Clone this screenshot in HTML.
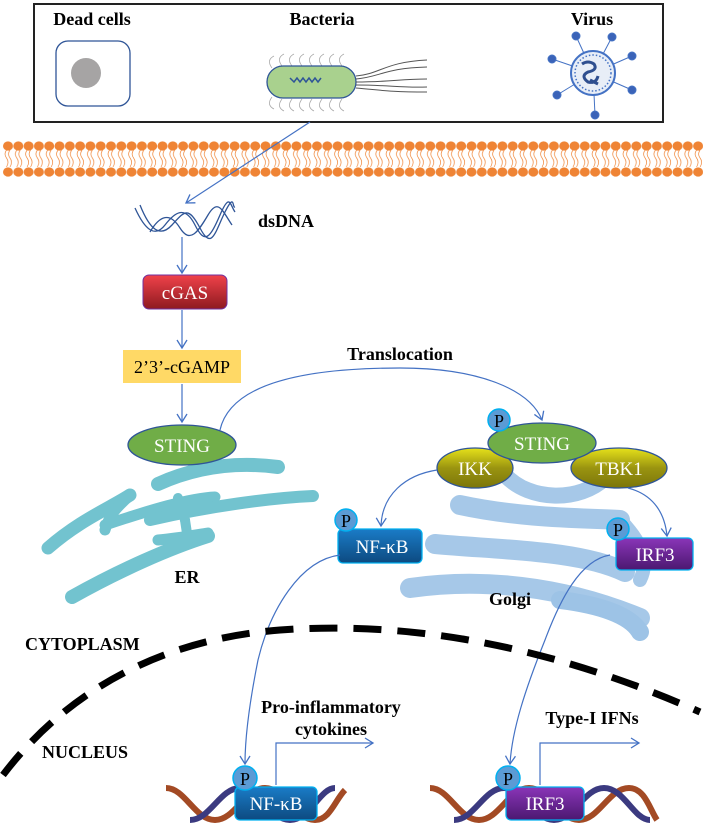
<!DOCTYPE html>
<html><head><meta charset="utf-8"><style>
html,body{margin:0;padding:0;background:#fff;}
svg{display:block;font-family:"Liberation Serif",serif;}
</style></head><body>
<svg width="703" height="826" viewBox="0 0 703 826" xmlns="http://www.w3.org/2000/svg">
<defs>
<marker id="ah" markerWidth="12" markerHeight="12" refX="9" refY="6" orient="auto" markerUnits="userSpaceOnUse">
<path d="M1,1 L9,6 L1,11" fill="none" stroke="#4472c4" stroke-width="1.3"/></marker>
<linearGradient id="red" x1="0" y1="0" x2="0" y2="1"><stop offset="0" stop-color="#f0424a"/><stop offset="1" stop-color="#8e1a20"/></linearGradient>
<linearGradient id="blue" x1="0" y1="0" x2="0" y2="1"><stop offset="0" stop-color="#1a7cc7"/><stop offset="1" stop-color="#0d4a80"/></linearGradient>
<linearGradient id="purp" x1="0" y1="0" x2="0" y2="1"><stop offset="0" stop-color="#8a35b8"/><stop offset="1" stop-color="#4b1870"/></linearGradient>
<linearGradient id="olive" x1="0" y1="0" x2="0" y2="1"><stop offset="0" stop-color="#e6e21a"/><stop offset="0.5" stop-color="#9a9410"/><stop offset="1" stop-color="#7b750a"/></linearGradient>
<pattern id="mem" x="3" y="141" width="10.3" height="10" patternUnits="userSpaceOnUse">
<ellipse cx="5" cy="5" rx="5" ry="4.6" fill="#ef8435"/>
</pattern>
<pattern id="mem2" x="3" y="167" width="10.3" height="10" patternUnits="userSpaceOnUse">
<ellipse cx="5" cy="5" rx="5" ry="4.6" fill="#ef8435"/>
</pattern>
<pattern id="tl" x="3" y="150" width="10.3" height="18" patternUnits="userSpaceOnUse">
<path d="M3.5,0 q-3,4 0,8 q3,4 0,9 M7,0 q-3,4 0,8 q3,4 0,9" fill="none" stroke="#ef8435" stroke-width="0.7"/></pattern>
</defs>

<!-- top box -->
<rect x="34" y="4" width="629" height="118" fill="#fff" stroke="#222" stroke-width="2"/>
<text x="92" y="25" font-size="18" font-weight="bold" text-anchor="middle">Dead cells</text>
<text x="322" y="25" font-size="18" font-weight="bold" text-anchor="middle">Bacteria</text>
<text x="592" y="25" font-size="18" font-weight="bold" text-anchor="middle">Virus</text>
<rect x="56" y="41" width="74" height="65" rx="12" fill="#fff" stroke="#2f5597" stroke-width="1.3"/>
<circle cx="86" cy="73" r="15" fill="#a6a4a4"/>
<!-- bacteria -->
<g fill="none" stroke="#aaa" stroke-width="0.8">
<path d="M272,68 q-6,-8 2,-12 M282,66 q-6,-8 2,-12 M292,66 q-6,-8 2,-12 M302,66 q-6,-8 2,-12 M312,66 q-6,-8 2,-12 M322,66 q-6,-8 2,-12 M332,66 q-6,-8 2,-12 M342,66 q-6,-8 2,-12"/>
<path d="M272,97 q-6,8 2,12 M282,99 q-6,8 2,12 M292,99 q-6,8 2,12 M302,99 q-6,8 2,12 M312,99 q-6,8 2,12 M322,99 q-6,8 2,12 M332,99 q-6,8 2,12 M342,99 q-6,8 2,12"/>
</g>
<rect x="267" y="66" width="89" height="32" rx="16" fill="#a9d18e" stroke="#2f5597" stroke-width="1.3"/>
<path d="M290,78 l4,4 l3,-4 l3,4 l3,-4 l3,4 l3,-4 l3,4 l3,-4 l3,4 l3,-4" fill="none" stroke="#2f5597" stroke-width="1.5"/>
<g fill="none" stroke="#555" stroke-width="1">
<path d="M356,76 C380,74 385,62 427,60"/><path d="M356,79 C380,77 385,68 427,67"/>
<path d="M356,82 C390,82 400,79 427,79"/><path d="M356,85 C390,85 400,88 427,87"/>
<path d="M356,88 C380,90 388,92 427,92"/>
</g>
<!-- virus -->
<g stroke="#4472c4" stroke-width="1" fill="#3b63b8">
<line x1="593" y1="73" x2="576" y2="36"/><circle cx="576" cy="36" r="4"/>
<line x1="593" y1="73" x2="612" y2="37"/><circle cx="612" cy="37" r="4"/>
<line x1="593" y1="73" x2="632" y2="56"/><circle cx="632" cy="56" r="4"/>
<line x1="593" y1="73" x2="552" y2="59"/><circle cx="552" cy="59" r="4"/>
<line x1="593" y1="73" x2="632" y2="90"/><circle cx="632" cy="90" r="4"/>
<line x1="593" y1="73" x2="557" y2="95"/><circle cx="557" cy="95" r="4"/>
<line x1="593" y1="73" x2="595" y2="115"/><circle cx="595" cy="115" r="4"/>
</g>
<circle cx="593" cy="73" r="22" fill="#e8eef7" stroke="#4472c4" stroke-width="2"/>
<circle cx="593" cy="73" r="18" fill="none" stroke="#4472c4" stroke-width="1.5" stroke-dasharray="1.5 2"/>
<path d="M582,64 q6,-4 12,0 q4,6 -6,8 q-8,4 0,10 q8,2 10,-6 M590,80 l8,4" fill="none" stroke="#2f4f8f" stroke-width="3"/>

<!-- membrane -->
<rect x="3" y="150" width="700" height="18" fill="url(#tl)"/>
<rect x="3" y="141" width="700" height="10" fill="url(#mem)"/>
<rect x="3" y="167" width="700" height="10" fill="url(#mem2)"/>

<!-- entry arrow -->
<line x1="310" y1="122" x2="186" y2="203" stroke="#4472c4" stroke-width="1.2" marker-end="url(#ah)"/>
<!-- dsDNA -->
<g fill="none" stroke="#2f5597" stroke-width="1.3">
<path d="M135,208 C145,230 155,238 165,225 S185,205 195,225 S210,238 220,215 S230,205 235,212"/>
<path d="M140,205 C150,230 160,238 172,225 S188,205 200,228 S215,232 225,212 S232,208 235,207"/>
<path d="M150,232 C160,215 170,212 180,228 S198,232 208,215 S222,210 232,225"/>
</g>
<text x="258" y="227" font-size="18" font-weight="bold">dsDNA</text>
<line x1="182" y1="237" x2="182" y2="273" stroke="#4472c4" stroke-width="1.2" marker-end="url(#ah)"/>
<rect x="143" y="275" width="84" height="34" rx="6" fill="url(#red)" stroke="#7030a0" stroke-width="1"/>
<text x="185" y="299" font-size="19" fill="#fff" text-anchor="middle">cGAS</text>
<line x1="182" y1="310" x2="182" y2="348" stroke="#4472c4" stroke-width="1.2" marker-end="url(#ah)"/>
<rect x="123" y="350" width="118" height="33" fill="#ffd966"/>
<text x="182" y="373" font-size="18" text-anchor="middle">2’3’-cGAMP</text>
<line x1="182" y1="384" x2="182" y2="422" stroke="#4472c4" stroke-width="1.2" marker-end="url(#ah)"/>

<!-- ER -->
<g fill="none" stroke="#72c3cf" stroke-linecap="round">
<path d="M158,484 C200,465 240,462 278,467" stroke-width="14"/>
<path d="M48,548 C80,520 110,508 130,495" stroke-width="13"/>
<path d="M105,525 C150,510 190,498 215,497" stroke-width="11"/>
<path d="M105,530 C110,512 120,505 130,495" stroke-width="11"/>
<path d="M150,520 C210,506 270,498 313,496" stroke-width="12"/>
<path d="M178,498 L185,520" stroke-width="10"/>
<path d="M158,540 C180,538 195,535 208,533" stroke-width="11"/>
<path d="M72,597 C120,570 170,548 208,536" stroke-width="14"/>
<path d="M185,520 L188,540" stroke-width="10"/>
</g>
<text x="187" y="583" font-size="18" font-weight="bold" text-anchor="middle">ER</text>

<!-- STING left -->
<ellipse cx="182" cy="445" rx="54" ry="20" fill="#70ad47" stroke="#2f5597" stroke-width="1.3"/>
<text x="182" y="452" font-size="19" fill="#fff" text-anchor="middle">STING</text>

<!-- Translocation -->
<text x="400" y="360" font-size="18" font-weight="bold" text-anchor="middle">Translocation</text>
<path d="M220,430 C230,385 300,368 400,368 C480,368 530,390 542,420" fill="none" stroke="#4472c4" stroke-width="1.2" marker-end="url(#ah)"/>

<!-- Golgi -->
<g fill="none" stroke="#9dc3e6" stroke-linecap="round" opacity="0.9">
<path d="M505,475 C530,502 580,502 605,478" stroke-width="16"/>
<path d="M460,505 C520,518 580,518 620,520" stroke-width="20"/>
<path d="M435,544 C500,550 580,550 625,572" stroke-width="20"/>
<path d="M410,588 C480,578 560,585 640,618" stroke-width="20"/>
<path d="M620,520 C640,540 650,560 640,580" stroke-width="14"/>
</g>
<path d="M560,600 C600,605 630,615 640,632" fill="none" stroke="#9dc3e6" stroke-width="18" stroke-linecap="round"/>
<text x="510" y="605" font-size="18" font-weight="bold" text-anchor="middle">Golgi</text>

<!-- STING complex -->
<ellipse cx="475" cy="468" rx="38" ry="20" fill="url(#olive)" stroke="#2f5597" stroke-width="1.3"/>
<ellipse cx="619" cy="468" rx="48" ry="20" fill="url(#olive)" stroke="#2f5597" stroke-width="1.3"/>
<ellipse cx="542" cy="443" rx="54" ry="20" fill="#70ad47" stroke="#2f5597" stroke-width="1.3"/>
<text x="542" y="450" font-size="19" fill="#fff" text-anchor="middle">STING</text>
<text x="475" y="475" font-size="19" fill="#fff" text-anchor="middle">IKK</text>
<text x="619" y="475" font-size="19" fill="#fff" text-anchor="middle">TBK1</text>
<circle cx="499" cy="420" r="11" fill="#5b9bd5" stroke="#00b0f0" stroke-width="1.5"/>
<text x="499" y="427" font-size="18" text-anchor="middle">P</text>

<!-- arrows to NF-kB / IRF3 -->
<path d="M437,470 C405,475 382,495 381,526" fill="none" stroke="#4472c4" stroke-width="1.2" marker-end="url(#ah)"/>
<path d="M628,488 C655,495 665,515 667,536" fill="none" stroke="#4472c4" stroke-width="1.2" marker-end="url(#ah)"/>

<rect x="338" y="529" width="84" height="34" rx="5" fill="url(#blue)" stroke="#00b0f0" stroke-width="1.3"/>
<text x="382" y="553" font-size="19" fill="#fff" text-anchor="middle">NF-κB</text>
<circle cx="346" cy="520" r="11" fill="#5b9bd5" stroke="#00b0f0" stroke-width="1.5"/>
<text x="346" y="527" font-size="18" text-anchor="middle">P</text>
<rect x="616" y="538" width="77" height="32" rx="5" fill="url(#purp)" stroke="#00b0f0" stroke-width="1.3"/>
<text x="655" y="561" font-size="19" fill="#fff" text-anchor="middle">IRF3</text>
<circle cx="618" cy="529" r="11" fill="#5b9bd5" stroke="#00b0f0" stroke-width="1.5"/>
<text x="618" y="536" font-size="18" text-anchor="middle">P</text>

<!-- curves to nucleus -->
<path d="M340,555 C300,560 270,610 258,660 C248,710 245,740 245,764" fill="none" stroke="#4472c4" stroke-width="1.2" marker-end="url(#ah)"/>
<path d="M610,555 C580,560 560,600 545,640 C525,690 512,730 510,764" fill="none" stroke="#4472c4" stroke-width="1.2" marker-end="url(#ah)"/>

<!-- nuclear envelope -->
<path d="M3,775 C60,700 150,640 280,630 C420,620 560,650 700,712" fill="none" stroke="#000" stroke-width="7" stroke-dasharray="28 16"/>
<text x="25" y="650" font-size="18" font-weight="bold">CYTOPLASM</text>
<text x="42" y="758" font-size="18" font-weight="bold">NUCLEUS</text>

<text x="331" y="713" font-size="18" font-weight="bold" text-anchor="middle">Pro-inflammatory</text>
<text x="331" y="735" font-size="18" font-weight="bold" text-anchor="middle">cytokines</text>
<path d="M276,785 L276,743 L373,743" fill="none" stroke="#4472c4" stroke-width="1.2" marker-end="url(#ah)"/>
<text x="592" y="724" font-size="18" font-weight="bold" text-anchor="middle">Type-I IFNs</text>
<path d="M540,785 L540,743 L639,743" fill="none" stroke="#4472c4" stroke-width="1.2" marker-end="url(#ah)"/>

<!-- DNA helices -->
<g fill="none" stroke-width="6">
<path d="M166,788 C185,788 195,820 215,820 C235,820 245,788 265,788 C285,788 295,820 315,820 C330,820 335,800 345,790" stroke="#a34a24"/>
<path d="M190,820 C210,820 220,788 240,788 C260,788 270,820 290,820 C310,820 320,788 335,788" stroke="#3b3a80"/>
<path d="M430,788 C449,788 459,820 479,820 C499,820 509,788 529,788 C549,788 559,820 579,820 C599,820 609,788 629,788 C645,788 650,810 657,820" stroke="#a34a24"/>
<path d="M454,820 C474,820 484,788 504,788 C524,788 534,820 554,820 C574,820 584,788 604,788 C624,788 634,820 650,820" stroke="#3b3a80"/>
</g>
<rect x="235" y="787" width="82" height="33" rx="5" fill="url(#blue)" stroke="#00b0f0" stroke-width="1.3"/>
<text x="276" y="810" font-size="19" fill="#fff" text-anchor="middle">NF-κB</text>
<circle cx="245" cy="778" r="12" fill="#5b9bd5" stroke="#00b0f0" stroke-width="1.5"/>
<text x="245" y="785" font-size="18" text-anchor="middle">P</text>
<rect x="506" y="787" width="78" height="33" rx="5" fill="url(#purp)" stroke="#00b0f0" stroke-width="1.3"/>
<text x="545" y="810" font-size="19" fill="#fff" text-anchor="middle">IRF3</text>
<circle cx="508" cy="778" r="12" fill="#5b9bd5" stroke="#00b0f0" stroke-width="1.5"/>
<text x="508" y="785" font-size="18" text-anchor="middle">P</text>
</svg>
</body></html>
